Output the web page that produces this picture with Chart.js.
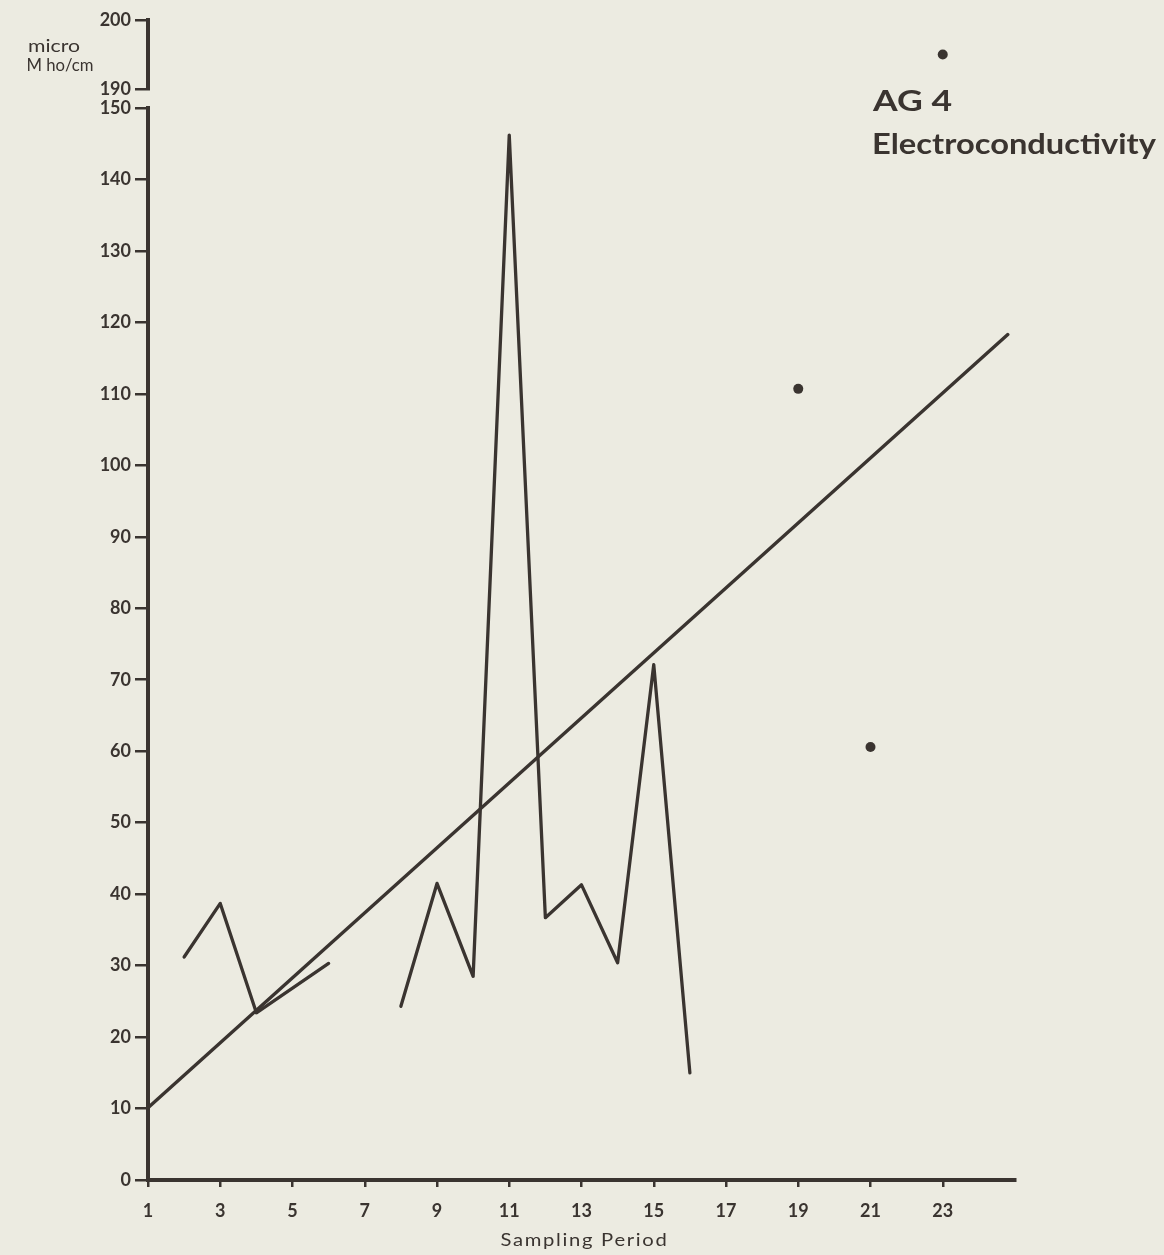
<!DOCTYPE html>
<html>
<head>
<meta charset="utf-8">
<title>AG 4 Electroconductivity</title>
<script src="https://cdn.jsdelivr.net/npm/chart.js@4.4.1/dist/chart.umd.min.js"></script>
<style>
  html, body { margin: 0; padding: 0; background: #ecebe1; }
  #wrap { position: relative; width: 1164px; height: 1255px; }
  canvas { display: block; }
</style>
</head>
<body>
<div id="wrap"><canvas id="chart" width="1164" height="1255"></canvas></div>
<script>
// Sampling periods and measured conductivity (micro mho/cm); null breaks the line
const periods      = [2, 3, 4, 6, 7, 8, 9, 10, 11, 12, 13, 14, 15, 16];
const conductivity = [31.2, 38.7, 23.4, 30.3, null, 24.3, 41.5, 28.5, 146.2, 36.7, 41.3, 30.4, 72.1, 15.0];

// Isolated readings plotted as dots
const dotPeriods = [19, 21];
const dotValues  = [110.7, 60.6];
// Reading above the axis break
const highPeriods = [23];
const highValues  = [195];

// Fitted trend line end points
const trendPeriods = [1, 24.8];
const trendValues  = [10.1, 118.3];

// Axis ticks
const xTicks     = [1, 3, 5, 7, 9, 11, 13, 15, 17, 19, 21, 23];
const yTicks     = [0, 10, 20, 30, 40, 50, 60, 70, 80, 90, 100, 110, 120, 130, 140, 150];
const yHighTicks = [190, 200];

const titleLines = ['AG 4', 'Electroconductivity'];
const unitLines  = ['micro', 'M ho/cm'];
const xTitle     = 'Sampling Period';

const ink = '#3a3430';
const FONT = 'Lato, "DejaVu Sans", sans-serif';

const pairs = (xs, ys) => xs.map((x, i) => ({ x, y: ys[i] }));

// Draw text stretched horizontally to a given width (wide geometric face look)
function fitText(ctx, text, x, y, width, align) {
  const w = ctx.measureText(text).width;
  const k = width / w;
  ctx.save();
  ctx.textAlign = 'left';
  const left = align === 'center' ? x - width / 2 : x;
  ctx.translate(left, y);
  ctx.scale(k, 1);
  ctx.fillText(text, 0, 0);
  ctx.restore();
}

const textPlugin = {
  id: 'inkText',
  afterDraw(chart) {
    const ctx = chart.ctx;
    const area = chart.chartArea;
    ctx.save();
    ctx.fillStyle = ink;
    ctx.textBaseline = 'alphabetic';

    ctx.font = 'bold 28px ' + FONT;
    fitText(ctx, titleLines[0], 873, 111, 79);
    fitText(ctx, titleLines[1], 872, 154, 284);

    ctx.font = '17px ' + FONT;
    fitText(ctx, unitLines[0], 54, 52, 52, 'center');
    fitText(ctx, unitLines[1], 60, 71, 67, 'center');

    ctx.font = '18px ' + FONT;
    ctx.letterSpacing = '1.5px';
    fitText(ctx, xTitle, (area.left + area.right) / 2 + 3, 1246, 168, 'center');
    ctx.restore();
  }
};

const tickFont = { family: FONT, size: 18, weight: 'bold' };

const yCommon = {
  type: 'linear',
  position: 'left',
  stack: 'left',
  afterFit: s => { s.width = 148; },
  border: { display: true, color: ink, width: 4 },
  grid: { drawOnChartArea: false, drawTicks: true, tickLength: 13, color: ink, lineWidth: 2.5 },
  ticks: { color: ink, font: tickFont, padding: 4 }
};

new Chart(document.getElementById('chart'), {
  type: 'line',
  data: {
    datasets: [
      {
        label: 'Conductivity',
        data: pairs(periods, conductivity),
        xAxisID: 'x', yAxisID: 'y',
        borderColor: ink, borderWidth: 3.3,
        borderJoinStyle: 'round', borderCapStyle: 'round',
        pointRadius: 0, spanGaps: false, tension: 0
      },
      {
        label: 'Trend',
        data: pairs(trendPeriods, trendValues),
        xAxisID: 'x', yAxisID: 'y',
        borderColor: ink, borderWidth: 3.4, borderCapStyle: 'round',
        pointRadius: 0, tension: 0
      },
      {
        label: 'Readings',
        data: pairs(dotPeriods, dotValues),
        xAxisID: 'x', yAxisID: 'y',
        showLine: false, pointRadius: 5, pointBackgroundColor: ink, pointBorderWidth: 0
      },
      {
        label: 'High reading',
        data: pairs(highPeriods, highValues),
        xAxisID: 'x', yAxisID: 'yHigh',
        showLine: false, pointRadius: 5, pointBackgroundColor: ink, pointBorderWidth: 0
      }
    ]
  },
  options: {
    responsive: false,
    animation: false,
    events: [],
    layout: { padding: { top: 20, right: 149, bottom: 0, left: 0 } },
    plugins: { legend: { display: false }, tooltip: { enabled: false }, title: { display: false } },
    scales: {
      x: {
        type: 'linear',
        position: 'bottom',
        min: 1, max: 25,
        afterBuildTicks: s => { s.ticks = xTicks.map(v => ({ value: v })); },
        afterFit: s => { s.height = 75; },
        border: { display: true, color: ink, width: 4 },
        grid: { drawOnChartArea: false, drawTicks: true, tickLength: 7, color: ink, lineWidth: 2.5 },
        ticks: { color: ink, font: tickFont, padding: 13, maxRotation: 0, autoSkip: false }
      },
      yHigh: Object.assign({}, yCommon, {
        weight: 3, stackWeight: 69,
        min: 190, max: 200,
        afterBuildTicks: s => { s.ticks = yHighTicks.map(v => ({ value: v })); }
      }),
      yGap: {
        type: 'linear', position: 'left', stack: 'left',
        weight: 2, stackWeight: 19,
        min: 150, max: 190,
        afterFit: s => { s.width = 148; },
        border: { display: false },
        grid: { display: false },
        ticks: { display: false }
      },
      y: Object.assign({}, yCommon, {
        weight: 1, stackWeight: 1072,
        min: 0, max: 150,
        afterBuildTicks: s => { s.ticks = yTicks.map(v => ({ value: v })); }
      })
    }
  },
  plugins: [textPlugin]
});
</script>
</body>
</html>
